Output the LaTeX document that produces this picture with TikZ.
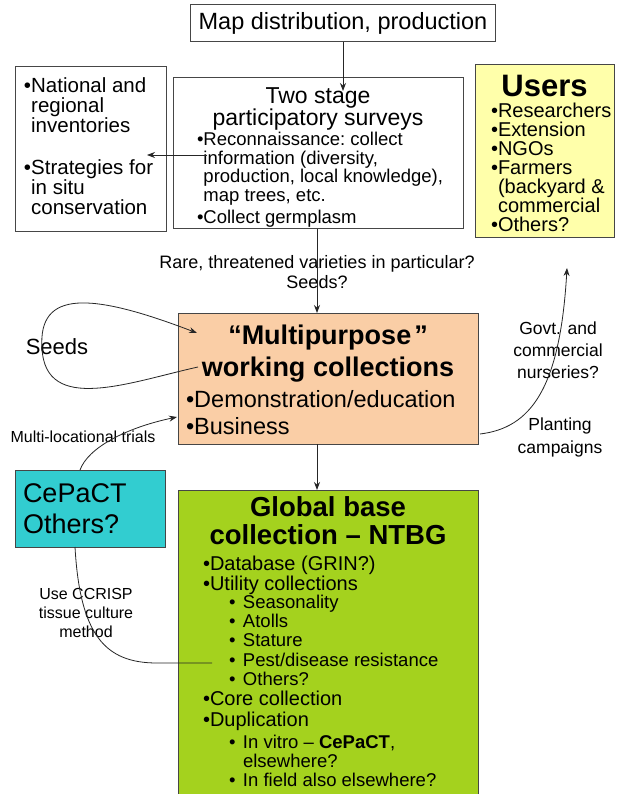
\documentclass[tikz,border=0pt]{standalone}
\usepackage{fontspec}
\setmainfont{Liberation Sans}
\usetikzlibrary{positioning}
\usetikzlibrary{arrows.meta,calc}
\definecolor{peach}{RGB}{250,206,166}
\definecolor{paleyellow}{RGB}{255,255,170}
\definecolor{tealbox}{RGB}{50,205,208}
\definecolor{limebox}{RGB}{164,210,30}
\definecolor{edge}{RGB}{70,70,70}
\newcommand{\fs}[2]{\fontsize{#1}{#2}\selectfont\spaceskip=0.278em plus 0.1em\relax}
\newcommand{\fsb}[2]{\fontsize{#1}{#2}\selectfont\bfseries\spaceskip=0.278em plus 0.1em\relax}
\newcommand{\bul}{\textbullet}
\newcommand{\hb}{\phantom{\textbullet}}
\newcommand{\sbul}{\makebox[14pt][l]{\textbullet}}
\tikzstyle{panel}=[draw=edge,line width=1pt,inner sep=0pt,outer sep=0pt]
\tikzstyle{arr}=[-{Stealth[length=8pt,width=6pt]},line width=0.8pt,draw=black!85]
\tikzstyle{line}=[line width=0.8pt,draw=black!85]
\tikzstyle{lbl}=[inner sep=0pt,align=center]

\begin{document}
\begin{tikzpicture}[x=1pt,y=-1pt]

\path[use as bounding box,fill=white] (0,0) rectangle (617,794);

%Boxes (text height = first baseline below the top edge)
\node[panel,text width=305pt,text height=24.7pt,text depth=12.3pt] (map) at (343,23.5)
  {\centering\fs{23.5}{23.5}Map distribution, production\par};

\node[panel,text width=151pt,text height=26pt,text depth=138pt] (inv) at (90.5,149)
  {\raggedright\leftskip=9pt\fs{20.5}{20}\bul National and\\\hb regional\\\hb inventories\par
   \vspace{22pt}\bul Strategies for\\\hb in situ\\\hb conservation\par};

\node[panel,text width=290pt,text height=26pt,text depth=125pt] (survey) at (318,153.5)
  {{\centering\fs{23}{22}Two stage\\participatory surveys\par}
   {\raggedright\leftskip=24pt\fs{18.5}{18.5}\vspace{1.5pt}\bul Reconnaissance: collect\\\hb information (diversity,\\\hb production, local knowledge),\\\hb map trees, etc.\par
   \vspace{3.5pt}\bul Collect germplasm\par}};

\node[panel,fill=paleyellow,text width=139pt,text height=32pt,text depth=140pt] (users) at (544.5,151)
  {{\centering\fsb{31}{31}Users\par}
   {\raggedright\leftskip=16pt\fs{20}{19}\vspace{2pt}\bul Researchers\\\bul Extension\\\bul NGOs\\\bul Farmers\\\hb(backyard \&\\\hb commercial\\\bul Others?\par}};

\node[panel,fill=peach,text width=300pt,text height=31pt,text depth=100pt] (multi) at (328,378.5)
  {{\centering\fsb{27}{32}“Multipurpose\hspace{3pt}”\\working collections\par}
   {\raggedright\leftskip=8pt\fs{23.5}{27}\vspace{4pt}\bul Demonstration/education\\\bul Business\par}};

\node[panel,fill=tealbox,text width=150pt,text height=32pt,text depth=45pt] (cepact) at (90,508.5)
  {\raggedright\leftskip=8pt\fs{27}{31}CePaCT\\Others?\par};

\node[panel,fill=limebox,text width=300pt,text height=26.7pt,text depth=320pt,anchor=north] (global) at (328,490)
  {{\centering\fsb{27.5}{27.5}Global base\\collection – NTBG\par}
   {\raggedright\leftskip=25pt\fs{20}{20}\vspace{6pt}\bul Database (GRIN?)\\\bul Utility collections\par}
   {\raggedright\leftskip=51pt\fs{18.5}{19.25}\vspace{-1pt}\sbul Seasonality\\\sbul Atolls\\\sbul Stature\\\sbul Pest/disease resistance\\\sbul Others?\par}
   {\raggedright\leftskip=25pt\fs{20}{21}\vspace{-1pt}\bul Core collection\\\bul Duplication\par}
   {\raggedright\leftskip=51pt\fs{18.5}{19}\vspace{3pt}\sbul In vitro – {\bfseries CePaCT},\\\hspace*{14pt}elsewhere?\\\sbul In field also elsewhere?\par}};

%Labels
\node[lbl,font=\fs{18}{20}] (rare) at (317,272) {Rare, threatened varieties in particular?\\Seeds?};
\node[lbl,font=\fs{22}{22}] (seedtext) at (57,347) {Seeds};
\node[lbl,font=\fs{16}{16}] (mltext) at (83,437) {Multi-locational trials};
\node[lbl,font=\fs{17.5}{22}] (govt) at (558,350) {Govt. and\\commercial\\nurseries?};
\node[lbl,font=\fs{17.5}{23}] (plant) at (560,437) {Planting\\campaigns};
\node[lbl,font=\fs{16}{19}] (ccrisp) at (86,613) {Use CCRISP\\tissue culture\\method};

%Connectors
\coordinate (svtop) at (343,91);
\coordinate (svleft) at (207,155);
\coordinate (invright) at (147,155);
\coordinate (seedout) at (198,367);
\coordinate (seedin) at (197,333);
\coordinate (plantend) at (567,268);
\coordinate (ccend) at (212,663);

\draw[arr] (map) -- (svtop);
\draw[arr] (svleft) -- (invright);
\draw[arr] (survey.south -| rare) -- (multi.north -| rare);
\draw[arr] (multi.south -| rare) -- (global.north -| rare);
\draw[arr] (seedout) .. controls (130,382) and (45,415) .. (42,348)
                     .. controls (38,290) and (90,292) .. (seedin);
\draw[arr] ($(cepact.north)+(-10,0)$) .. controls (88,448) and (125,428) .. ($(multi.west)+(-1,38.5)$);
\draw[arr] ($(multi.south east)+(2,-10)$) .. controls (530,428) and (560,390) .. (plantend);
\draw[line] ($(cepact.south)+(-15,0)$) .. controls (80,635) and (105,663) .. (157,663) -- (ccend);

\end{tikzpicture}
\end{document}
